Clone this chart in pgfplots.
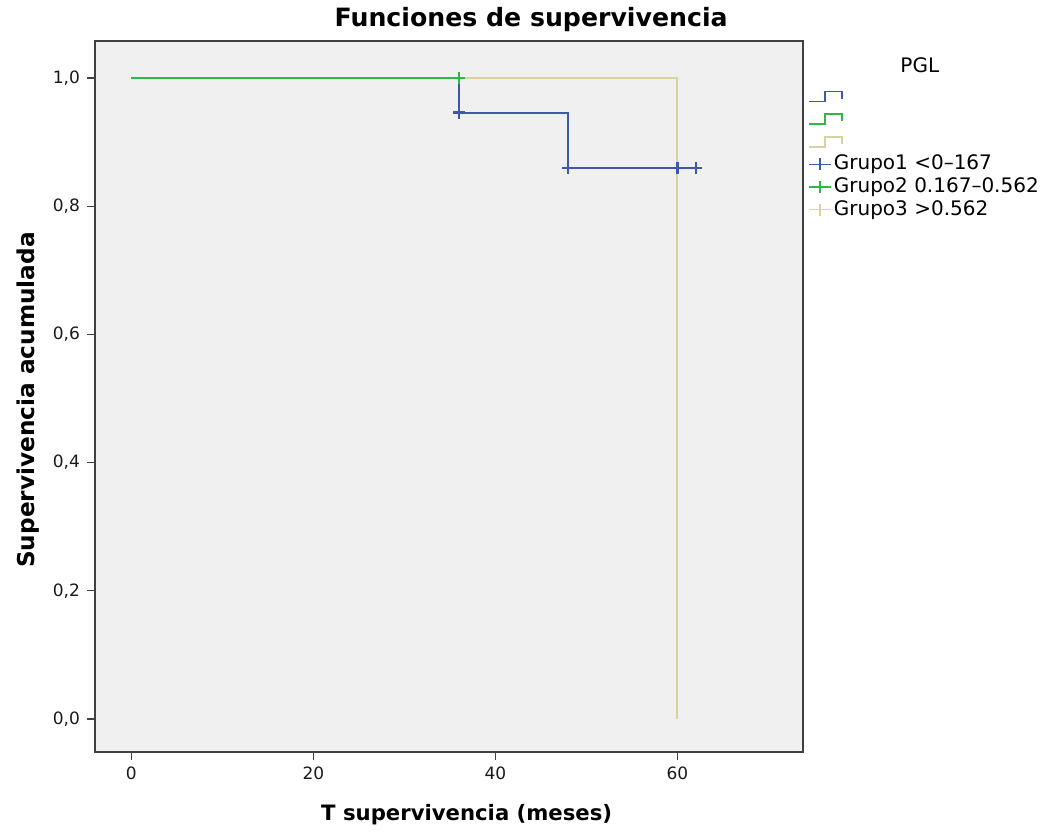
\documentclass[border=0pt]{standalone}
\usepackage{pgfplots}
\pgfplotsset{compat=1.18}
\usepackage{fontspec}
\setmainfont{DejaVu Sans}
\definecolor{g1}{RGB}{62,88,172}
\definecolor{g2}{RGB}{46,184,72}
\definecolor{g3}{RGB}{216,210,160}
\definecolor{bgc}{RGB}{240,240,240}
\pgfplotsset{
 steplegend/.style={legend image code/.code={\draw[overlay,##1] (0pt,-2.5pt) -- (8pt,-2.5pt) -- (8pt,2.5pt) -- (16.5pt,2.5pt) -- (16.5pt,-1pt);}},
 crosslegend/.style={legend image code/.code={\draw[mark repeat=2,mark phase=2,##1] plot coordinates {(0pt,0pt) (5.5pt,0pt) (11pt,0pt)};}},
}
\begin{document}
\begin{tikzpicture}
\begin{axis}[
 scale only axis, width=354pt, height=355.5pt,
 xmin=-4, xmax=73.8, ymin=-0.0515, ymax=1.0577,
 axis background/.style={fill=bgc},
 axis line style={draw=black!75, line width=0.75pt},
 xtick={0,20,40,60}, ytick={0,0.2,0.4,0.6,0.8,1},
 tick align=outside, tick pos=left, major tick length=4pt,
 tick style={black!75, line width=0.6pt},
 ticklabel style={font=\fontsize{8.5}{10}\selectfont, text=black!90},
 xticklabel style={/pgf/number format/.cd, assume math mode=true},
 yticklabel style={/pgf/number format/.cd, fixed, fixed zerofill, precision=1, use comma, assume math mode=true},
 xlabel={T supervivencia (meses)},
 ylabel={Supervivencia acumulada},
 xlabel style={font=\bfseries\fontsize{10.6}{12}\selectfont, at={(axis description cs:0.525,-0.0886)}, anchor=center},
 ylabel style={font=\bfseries\fontsize{11.6}{13}\selectfont, at={(axis description cs:-0.0946,0.495)}, anchor=center},
 clip=false,
 legend style={at={(rel axis cs:1.007,0.9385)}, anchor=north west, draw=none, fill=none,
   font=\fontsize{10}{12}\selectfont, row sep=-0.2pt, inner sep=0pt,
   nodes={inner sep=1pt, text height=7.5pt, text depth=2pt}},
 legend cell align=left,
]
\addplot[g1, line width=1pt, forget plot] coordinates {(0,1) (36,1) (36,0.946) (48,0.946) (48,0.86) (62,0.86)};
\addplot[g3, line width=1pt, forget plot] coordinates {(0,1) (60,1) (60,0)};
\addplot[g2, line width=1pt, forget plot] coordinates {(0,1) (36,1)};
\addplot[g1, only marks, mark=+, mark size=3pt, line width=1.1pt, forget plot] coordinates {(36,0.946) (48,0.86) (60,0.86) (62,0.86)};
\addplot[g2, only marks, mark=+, mark size=3pt, line width=1.1pt, forget plot] coordinates {(36,1)};

\addlegendimage{g1, line width=0.75pt, steplegend}
\addlegendentry{\mbox{}}
\addlegendimage{g2, line width=0.75pt, steplegend}
\addlegendentry{\mbox{}}
\addlegendimage{g3, line width=0.75pt, steplegend}
\addlegendentry{\mbox{}}
\addlegendimage{g1, line width=0.75pt, mark=+, mark size=3pt, crosslegend}
\addlegendentry{Grupo1 <0–167}
\addlegendimage{g2, line width=0.75pt, mark=+, mark size=3pt, crosslegend}
\addlegendentry{Grupo2 0.167–0.562}
\addlegendimage{g3, line width=0.75pt, mark=+, mark size=3pt, crosslegend}
\addlegendentry{Grupo3 >0.562}

\node[font=\fontsize{10}{12}\selectfont] at (rel axis cs:1.165,0.966) {PGL};
\node[font=\bfseries\fontsize{12.6}{14}\selectfont] at (rel axis cs:0.616,1.03) {Funciones de supervivencia};
\end{axis}
\pgfresetboundingbox
\path[use as bounding box] ([shift={(-47.5pt,-42.5pt)}]current axis.south west) rectangle ([shift={(120.5pt,20.5pt)}]current axis.north east);
\end{tikzpicture}
\end{document}
